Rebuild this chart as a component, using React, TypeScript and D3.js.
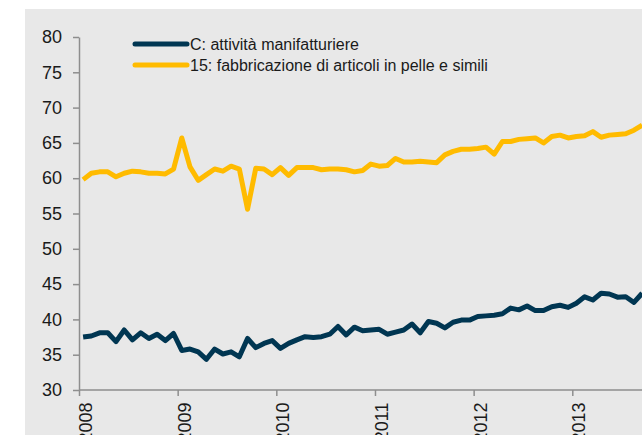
import { useEffect, useRef } from 'react'
import * as d3 from 'd3'

// monthly index values, Jan 2008 onwards
const manifatturiere = [
  37.5, 37.65, 38.1, 38.1, 36.85, 38.5, 37.1, 38.1, 37.3, 37.9, 37.0, 38.0,
  35.6, 35.8, 35.4, 34.35, 35.8, 35.1, 35.4, 34.7, 37.3, 36.0, 36.6, 37.0,
  35.9, 36.6, 37.1, 37.55, 37.45, 37.55, 37.9, 39.0, 37.8, 38.9, 38.4, 38.5,
  38.6, 37.9, 38.2, 38.5, 39.35, 38.1, 39.7, 39.45, 38.8, 39.6, 39.9, 39.9,
  40.4, 40.5, 40.6, 40.8, 41.6, 41.35, 41.9, 41.25, 41.25, 41.8, 42.0, 41.7,
  42.3, 43.2, 42.75, 43.7, 43.6, 43.15, 43.2, 42.4, 43.7,
]
const pelle = [
  59.8, 60.7, 60.9, 60.9, 60.2, 60.7, 61.0, 60.9, 60.7, 60.7, 60.6, 61.3,
  65.7, 61.6, 59.7, 60.5, 61.3, 61.0, 61.7, 61.3, 55.6, 61.4, 61.3, 60.5,
  61.5, 60.4, 61.5, 61.5, 61.5, 61.2, 61.3, 61.3, 61.2, 60.9, 61.1, 62.0,
  61.7, 61.8, 62.8, 62.3, 62.3, 62.4, 62.3, 62.2, 63.3, 63.8, 64.1, 64.1,
  64.2, 64.4, 63.4, 65.2, 65.2, 65.5, 65.6, 65.7, 65.0, 65.9, 66.1, 65.7,
  65.9, 66.0, 66.6, 65.8, 66.1, 66.2, 66.3, 66.8, 67.5,
]
const years = [2008, 2009, 2010, 2011, 2012, 2013]
const yTicks = [30, 35, 40, 45, 50, 55, 60, 65, 70, 75, 80]
const seriesNames = ['C: attività manifatturiere', '15: fabbricazione di articoli in pelle e simili']
const colors = ['#003652', '#ffbb00']

const App = () => {
  const chart = useRef<SVGSVGElement>(null)

  useEffect(() => {
    const svg = d3.select(chart.current)
    svg.selectAll('*').remove()
    const font = 'Liberation Sans, Arial, sans-serif'
    const axisColor = '#8e8e8e'

    // panel background
    svg.append('rect')
      .attr('x', 25).attr('y', 9)
      .attr('width', 642 - 25).attr('height', 435 - 9)
      .attr('fill', '#e8e8e8')

    const x = d3.scaleLinear().domain([2008, 2013]).range([79, 572.3])
    const y = d3.scaleLinear().domain([30, 80]).range([390, 37])

    // y axis
    const yAxis = svg.append('g')
      .attr('transform', 'translate(79,0)')
      .call(d3.axisLeft(y).tickValues(yTicks).tickSize(6).tickSizeOuter(0))
    yAxis.select('.domain').attr('stroke', axisColor).attr('stroke-width', 1.5)
    yAxis.selectAll('.tick line').attr('stroke', axisColor).attr('stroke-width', 1.5)
    yAxis.selectAll('.tick text')
      .attr('x', -17)
      .attr('fill', '#1a1a1a')
      .style('font-family', font)
      .style('font-size', '18px')

    // x axis
    const xAxis = svg.append('g')
      .attr('transform', 'translate(0,390)')
      .call(d3.axisBottom(x).tickValues(years).tickSize(6).tickSizeOuter(0).tickFormat(d3.format('d')))
    xAxis.select('.domain')
      .attr('d', `M79,0H642`)
      .attr('stroke', axisColor).attr('stroke-width', 1.5)
    xAxis.selectAll('.tick line').attr('stroke', axisColor).attr('stroke-width', 1.5)
    xAxis.selectAll('.tick text')
      .attr('x', null).attr('y', null).attr('dy', null)
      .attr('text-anchor', 'end')
      .attr('transform', 'translate(12.5,12.5) rotate(-90)')
      .attr('fill', '#1a1a1a')
      .style('font-family', font)
      .style('font-size', '18px')

    // lines
    const line = d3.line<number>()
      .x((_, i) => x(2008 + (i + 0.5) / 12))
      .y(d => y(d))
    ;[manifatturiere, pelle].forEach((s, k) => {
      svg.append('path')
        .datum(s)
        .attr('d', line)
        .attr('fill', 'none')
        .attr('stroke', colors[k])
        .attr('stroke-width', 5)
        .attr('stroke-linejoin', 'round')
    })

    // legend
    const legend = svg.append('g')
    seriesNames.forEach((name, k) => {
      const ly = 44 + k * 21
      legend.append('line')
        .attr('x1', 135).attr('x2', 187)
        .attr('y1', ly).attr('y2', ly)
        .attr('stroke', colors[k])
        .attr('stroke-width', 5)
        .attr('stroke-linecap', 'round')
      legend.append('text')
        .attr('x', 190).attr('y', ly + 5.5)
        .attr('fill', '#1a1a1a')
        .style('font-family', font)
        .style('font-size', '16px')
        .text(name)
    })
  }, [])

  return (
    <svg ref={chart} width={642} height={435}
      style={{ position: 'absolute', left: 0, top: 0, background: '#fff' }} />
  )
}

export default App
